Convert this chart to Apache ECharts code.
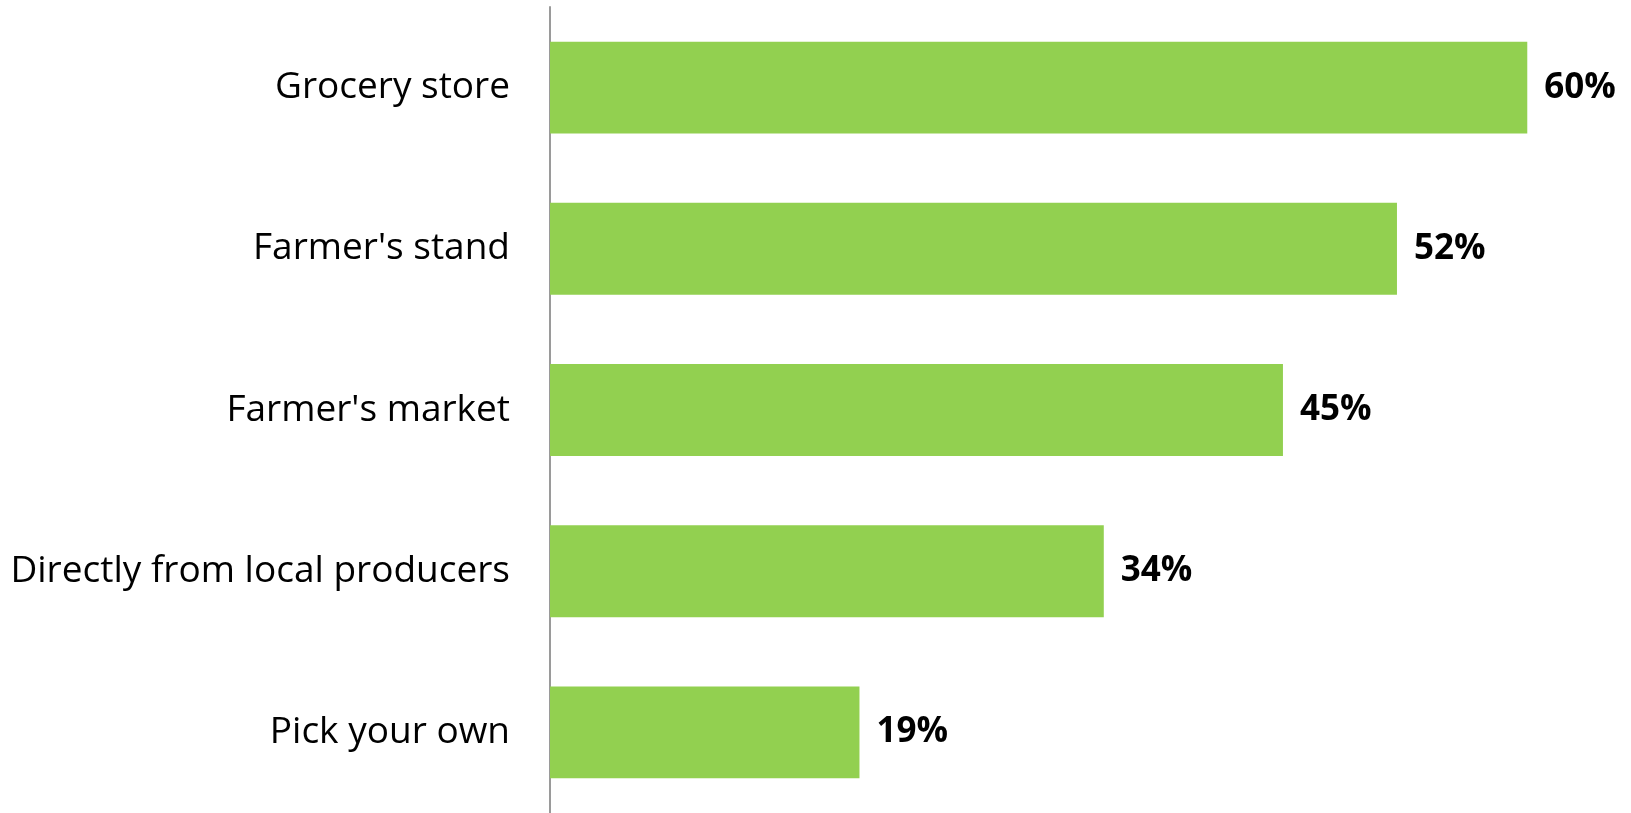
<!DOCTYPE html>
<html>
<head>
<meta charset="utf-8">
<script src="https://cdn.jsdelivr.net/npm/echarts@6/dist/echarts.min.js"></script>
<style>
  html, body { margin: 0; padding: 0; background: #fff; }
  #chart { width: 1631px; height: 813px; }
</style>
</head>
<body>
<div id="chart"></div>
<script>
// Where people buy local produce (share of respondents)
const categories = [
  'Grocery store',
  "Farmer's stand",
  "Farmer's market",
  'Directly from local producers',
  'Pick your own'
];
const shares = [60, 52, 45, 34, 19];

const chart = echarts.init(document.getElementById('chart'));
chart.setOption({
  animation: false,
  grid: { left: 550, right: 6, top: 7, bottom: -2, containLabel: false },
  xAxis: {
    type: 'value',
    min: 0,
    max: 66,
    show: false
  },
  yAxis: {
    type: 'category',
    inverse: true,
    data: categories,
    axisLine: { show: true, lineStyle: { color: '#9a9a9a', width: 2 } },
    axisTick: { show: false },
    axisLabel: {
      color: '#000',
      fontFamily: 'Open Sans',
      fontSize: 37,
      margin: 40,
      lineHeight: 37,
      padding: [10, 0, 0, 0]
    }
  },
  series: [{
    type: 'bar',
    data: shares,
    barWidth: '57%',
    itemStyle: { color: '#92D050' },
    label: {
      show: true,
      position: 'right',
      distance: 17,
      formatter: '{c}%',
      color: '#000',
      fontFamily: 'Open Sans',
      fontWeight: 'bold',
      fontSize: 35,
      lineHeight: 35,
      padding: [8, 0, 0, 0]
    }
  }]
});
</script>
</body>
</html>
